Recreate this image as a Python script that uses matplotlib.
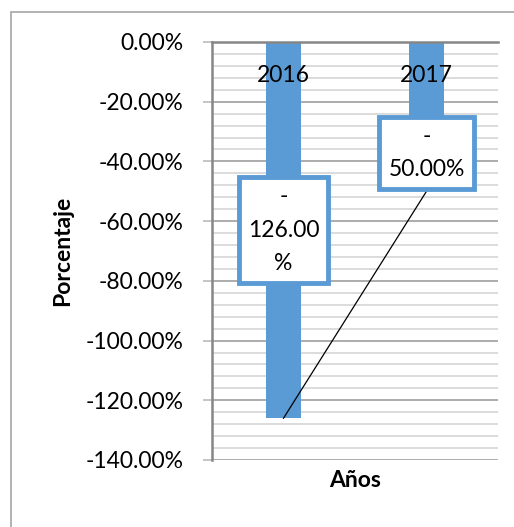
import matplotlib
matplotlib.use("Agg")
import matplotlib.pyplot as plt
from matplotlib.patches import Rectangle
from matplotlib.ticker import MultipleLocator, FuncFormatter

categories = ["2016", "2017"]
values = [-1.26, -0.50]
label_texts = ["-\n126.00\n%", "-\n50.00%"]
y_ticks = [0.0, -0.2, -0.4, -0.6, -0.8, -1.0, -1.2, -1.4]

BLUE = "#5b9bd5"
FONT = "Lato"
FS = 16.5

plt.rcParams['font.family'] = [FONT, 'DejaVu Sans']

fig = plt.figure(figsize=(5.14, 5.27), dpi=100)
fig.patches.append(Rectangle((11/514, -0.1), 1.2, 1 - 12/527 + 0.1, transform=fig.transFigure,
                             fill=False, edgecolor="#a6a6a6", linewidth=1.2))
ax = fig.add_axes([212/514, 1 - 460/527, (498-212)/514, (460-42)/527])

x = list(range(len(categories)))
ax.bar(x, values, width=0.25, color=BLUE, zorder=2)
ax.plot(x, values, color="black", linewidth=0.9, zorder=3)

ax.set_xlim(-0.5, len(categories) - 0.5)
ax.set_ylim(-1.4, 0)
ax.set_yticks(y_ticks)
ax.yaxis.set_major_formatter(FuncFormatter(lambda v, p: f"{v*100:.2f}%" if abs(v) > 1e-9 else "0.00%"))
ax.yaxis.set_minor_locator(MultipleLocator(0.04))
ax.grid(axis='y', which='major', color="#a6a6a6", linewidth=1.3)
ax.grid(axis='y', which='minor', color="#d9d9d9", linewidth=1.3)
ax.tick_params(axis='y', which='major', length=6.5, width=1.3, color="#c0c0c0", labelsize=FS, pad=14)
ax.tick_params(axis='y', which='minor', length=0)
ax.yaxis.set_zorder(0.5)

ax.set_xticks(x)
ax.set_xticklabels(categories)
ax.xaxis.tick_top()
ax.tick_params(axis='x', length=0, labelsize=FS, pad=-32)
ax.xaxis.set_zorder(4)

for s in ['right', 'bottom']:
    ax.spines[s].set_visible(False)
for s in ['left', 'top']:
    ax.spines[s].set_color("#868686")
    ax.spines[s].set_linewidth(1.8)

ax.set_ylabel("Porcentaje", fontsize=FS, fontweight='bold', labelpad=9)
ax.text(0.5, -0.05, "Años", transform=ax.transAxes, ha='center', va='center',
        fontsize=FS, fontweight='bold')

bbox = dict(boxstyle="square,pad=0.4", facecolor="white", edgecolor=BLUE, linewidth=3.5)
ax.annotate(label_texts[0], xy=(x[0], values[0] / 2), ha='center', va='center',
            fontsize=FS, linespacing=1.72, bbox=bbox, zorder=5)
ax.annotate(label_texts[1], xy=(x[1], values[1]), xytext=(0, 8), textcoords='offset points',
            ha='center', va='bottom', fontsize=FS, linespacing=1.72, bbox=bbox, zorder=5)

fig.savefig("out.png", dpi=100)
